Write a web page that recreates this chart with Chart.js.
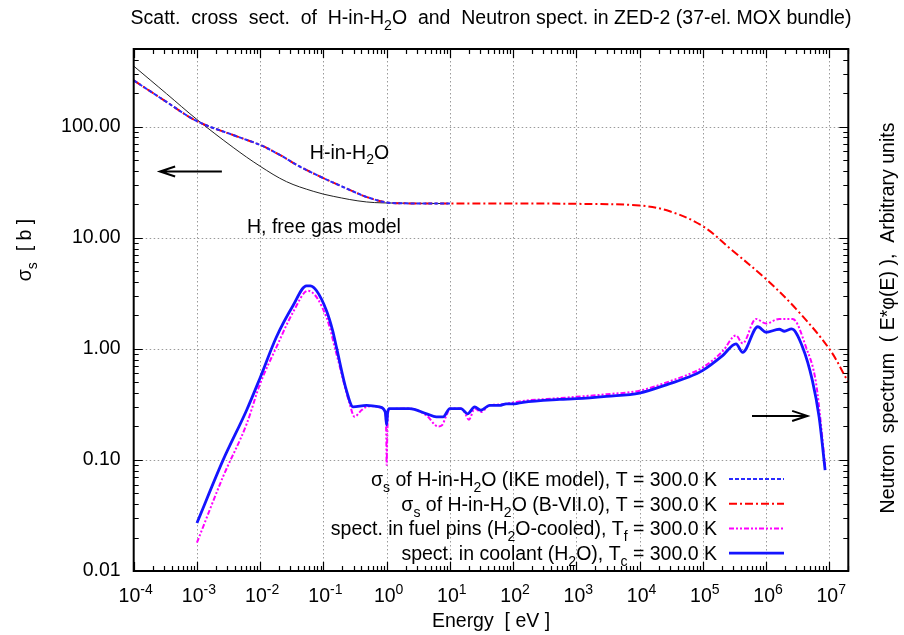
<!DOCTYPE html>
<html><head><meta charset="utf-8">
<script src="https://cdn.jsdelivr.net/npm/chart.js@4/dist/chart.umd.min.js"></script>
<style>html,body{margin:0;padding:0;background:#fff}#wrap{position:relative;width:904px;height:635px}</style>
</head><body><div id="wrap"><canvas id="c" width="904" height="635"></canvas></div>
<script>
// ---------- axis ticks ----------
const xTickValues = [1e-4,1e-3,1e-2,1e-1,1e0,1e1,1e2,1e3,1e4,1e5,1e6,1e7];
const xTickExponents = ['-4','-3','-2','-1','0','1','2','3','4','5','6','7'];
const yTickValues = [0.01,0.1,1,10,100];
const yTickLabels = ['0.01','0.10','1.00','10.00','100.00'];

// ---------- series ----------
// H, free gas model (black thin line)
const freeGasEnergy = [1e-4,3.3e-4,1e-3,3.74e-3,1e-2,2.6e-2,6.9e-2,0.143,0.48,1.5,10];
const freeGasSigma  = [351,198,116,65,44,32,26.2,23.6,21.0,20.5,20.3];

// sigma_s of H-in-H2O (IKE model)
const ikeEnergy = [1e-4,3.3e-4,1e-3,3.74e-3,1e-2,2.04e-2,4.2e-2,0.1,0.18,0.295,0.5,1,2,10];
const ikeSigma  = [261,167,112,84,68.4,55.7,43.8,34.4,29.6,26.1,23.1,20.8,20.4,20.3];

// sigma_s of H-in-H2O (B-VII.0)
const bviiEnergy = [1e-4,3.3e-4,1e-3,3.74e-3,1e-2,2.04e-2,4.2e-2,0.1,0.18,0.295,0.5,1,2,10,100,1e3,1e4,3e4,1e5,3e5,1e6,3e6,1e7,2e7];
const bviiSigma  = [261,167,112,84,68.4,55.7,43.8,34.4,29.6,26.1,23.1,20.8,20.4,20.3,20.3,20.2,19.5,17.3,12.7,7.6,4.24,2.28,1.0,0.5];

// spectrum in fuel pins (magenta)
const fuelEnergy = [1e-3,2.6e-3,6.1e-3,1e-2,1.8e-2,3.3e-2,5.7e-2,0.112,0.161,0.26,0.31,0.4,0.48,0.65,0.85,0.96,0.99,1.0,1.02,1.05,1.1,2.3,4.3,6.5,7.5,8.8,10,15,17,20,24.7,31,42.5,61,105,143,543,1e3,3e3,1e4,3e4,6e4,1e5,2.06e5,3.35e5,4.27e5,6.9e5,1e6,1.62e6,2.63e6,4.3e6,6.2e6,8.6e6];
const fuelFlux   = [0.018,0.071,0.21,0.486,1.03,2.13,3.33,1.92,0.9,0.32,0.245,0.28,0.30,0.305,0.29,0.26,0.15,0.09,0.15,0.26,0.285,0.29,0.25,0.2,0.205,0.25,0.29,0.29,0.27,0.23,0.29,0.27,0.31,0.315,0.33,0.34,0.36,0.37,0.39,0.42,0.51,0.59,0.68,0.95,1.32,1.12,1.86,1.69,1.86,1.86,1.03,0.486,0.09];

// spectrum in coolant (blue solid)
const coolEnergy = [1e-3,2.6e-3,6.1e-3,1e-2,1.8e-2,3.3e-2,5.4e-2,6.2e-2,7.8e-2,0.112,0.14,0.161,0.232,0.295,0.48,0.78,0.95,1.0,1.04,1.1,2.3,4.3,6.1,7.8,10,15,19,24.7,31,42.5,61,78,105,143,543,1e3,3e3,1e4,3e4,6e4,1e5,2.06e5,3.35e5,4.27e5,7.4e5,1e6,1.62e6,1.95e6,2.54e6,3.8e6,5.4e6,6.9e6,8.6e6];
const coolFlux   = [0.027,0.10,0.28,0.55,1.27,2.44,3.69,3.68,3.33,2.2,1.46,1.03,0.42,0.30,0.31,0.30,0.27,0.206,0.27,0.29,0.29,0.26,0.244,0.244,0.29,0.29,0.26,0.30,0.28,0.31,0.31,0.32,0.32,0.33,0.35,0.356,0.374,0.40,0.486,0.557,0.64,0.87,1.11,0.93,1.58,1.41,1.5,1.44,1.51,1.03,0.52,0.244,0.081];

// ---------- texts ----------
const titleText = 'Scatt.  cross  sect.  of  H-in-H_{2}O  and  Neutron spect. in ZED-2 (37-el. MOX bundle)';
const xTitle = 'Energy  [ eV ]';
const yTitle = 'σ_{s}  [ b ]';
const y2Title = 'Neutron  spectrum  ( E*φ(E) ),  Arbitrary units';
const legendLabels = [
  'σ_{s} of H-in-H_{2}O (IKE model), T = 300.0 K',
  'σ_{s} of H-in-H_{2}O (B-VII.0), T = 300.0 K',
  'spect. in fuel pins (H_{2}O-cooled), T_{f} = 300.0 K',
  'spect. in coolant (H_{2}O), T_{c} = 300.0 K'
];
const noteBound = 'H-in-H_{2}O';
const noteFree = 'H, free gas model';

const FONT = '"Liberation Sans", Arial, Helvetica, sans-serif';
const FS = 19.5;

function pts(xs, ys){ return xs.map((v,i)=>({x:v,y:ys[i]})); }

function parseRich(s){
  const out=[]; let i=0, buf='';
  while(i<s.length){
    if((s[i]==='_'||s[i]==='^') && s[i+1]==='{'){
      if(buf){out.push({t:buf,m:0});buf='';}
      const j=s.indexOf('}',i);
      out.push({t:s.slice(i+2,j), m: s[i]==='_'?-1:1});
      i=j+1;
    } else { buf+=s[i]; i++; }
  }
  if(buf) out.push({t:buf,m:0});
  return out;
}
function drawRich(ctx, s, x, y, align, size){
  const segs=parseRich(s); const sm=size*0.72;
  let w=0;
  segs.forEach(g=>{ctx.font=(g.m?sm:size)+'px '+FONT; g.w=ctx.measureText(g.t).width; w+=g.w;});
  let cx = align==='center'? x-w/2 : (align==='right'? x-w : x);
  ctx.textAlign='left'; ctx.textBaseline='alphabetic'; ctx.fillStyle='#000';
  const base = y + size*0.36;
  segs.forEach(g=>{
    ctx.font=(g.m?sm:size)+'px '+FONT;
    const dy = g.m<0 ? size*0.3 : (g.m>0 ? -size*0.42 : 0);
    ctx.fillText(g.t, cx, base+dy);
    cx+=g.w;
  });
  return w;
}
function arrow(ctx, x1,y1,x2,y2){
  const ang=Math.atan2(y2-y1,x2-x1), L=16, sp=0.32;
  ctx.beginPath(); ctx.moveTo(x1,y1); ctx.lineTo(x2,y2);
  ctx.moveTo(x2-L*Math.cos(ang-sp), y2-L*Math.sin(ang-sp)); ctx.lineTo(x2,y2);
  ctx.lineTo(x2-L*Math.cos(ang+sp), y2-L*Math.sin(ang+sp));
  ctx.stroke();
}

const decor = {
  id:'decor',
  beforeDatasetsDraw(chart){
    const {ctx, chartArea:a, scales:{x,y}} = chart;
    ctx.save();
    ctx.strokeStyle='#9a9a9a'; ctx.lineWidth=1; ctx.setLineDash([1.5,2.5]);
    xTickValues.forEach(v=>{
      const px=Math.round(x.getPixelForValue(v))+0.5;
      if(px<=a.left+2||px>=a.right-2) return;
      ctx.beginPath(); ctx.moveTo(px,a.top); ctx.lineTo(px,a.bottom); ctx.stroke();
    });
    yTickValues.forEach(v=>{
      const py=Math.round(y.getPixelForValue(v))+0.5;
      if(py<=a.top+2||py>=a.bottom-2) return;
      ctx.beginPath(); ctx.moveTo(a.left,py); ctx.lineTo(a.right,py); ctx.stroke();
    });
    ctx.restore();
  },
  afterDraw(chart){
    const {ctx, chartArea:a, scales:{x,y}} = chart;
    ctx.save();
    ctx.strokeStyle='#000'; ctx.lineWidth=1.2; ctx.setLineDash([]);
    const MJ=9, MN=5;
    for(let k=-4;k<=7;k++){
      for(let m=1;m<=9;m++){
        const v=m*Math.pow(10,k); if(v>x.max*1.0001) continue;
        const px=Math.round(x.getPixelForValue(v))+0.5; const L=m===1?MJ:MN;
        ctx.beginPath(); ctx.moveTo(px,a.bottom); ctx.lineTo(px,a.bottom-L);
        ctx.moveTo(px,a.top); ctx.lineTo(px,a.top+L); ctx.stroke();
      }
    }
    for(let k=-2;k<=2;k++){
      for(let m=1;m<=9;m++){
        const v=m*Math.pow(10,k); if(v>y.max*1.0001) continue;
        const py=Math.round(y.getPixelForValue(v))+0.5; const L=m===1?MJ:MN;
        ctx.beginPath(); ctx.moveTo(a.left,py); ctx.lineTo(a.left+L,py);
        ctx.moveTo(a.right,py); ctx.lineTo(a.right-L,py); ctx.stroke();
      }
    }
    ctx.lineWidth=2; ctx.strokeRect(a.left,a.top,a.right-a.left,a.bottom-a.top);
    xTickValues.forEach((v,i)=>{
      drawRich(ctx, '10^{'+xTickExponents[i]+'}', x.getPixelForValue(v)+2, a.bottom+24, 'center', FS);
    });
    drawRich(ctx, titleText, (a.left+a.right)/2, 17, 'center', FS);
    drawRich(ctx, xTitle, (a.left+a.right)/2, 620, 'center', FS);
    ctx.save(); ctx.translate(24, 250); ctx.rotate(-Math.PI/2);
    drawRich(ctx, yTitle, 0, 0, 'center', FS); ctx.restore();
    ctx.save(); ctx.translate(887, 318); ctx.rotate(-Math.PI/2);
    drawRich(ctx, y2Title, 0, 0, 'center', FS); ctx.restore();
    drawRich(ctx, noteBound, x.getPixelForValue(0.061), y.getPixelForValue(59.6), 'left', FS);
    drawRich(ctx, noteFree, x.getPixelForValue(6.2e-3), y.getPixelForValue(12.7), 'left', FS);
    ctx.strokeStyle='#000'; ctx.lineWidth=2;
    arrow(ctx, x.getPixelForValue(2.48e-3), y.getPixelForValue(39.5), x.getPixelForValue(2.6e-4), y.getPixelForValue(39.5));
    arrow(ctx, x.getPixelForValue(6.0e5), y.getPixelForValue(0.249), x.getPixelForValue(4.5e6), y.getPixelForValue(0.249));
    const legendSets = [2,3,1,0];
    legendLabels.forEach((lab,i)=>{
      const yy = 479 + i*24.7;
      drawRich(ctx, lab, 717, yy, 'right', FS);
      const ds = chart.data.datasets[legendSets[i]];
      ctx.strokeStyle=ds.borderColor; ctx.lineWidth=ds.borderWidth; ctx.setLineDash(ds.borderDash||[]);
      ctx.beginPath(); ctx.moveTo(729,yy); ctx.lineTo(784,yy); ctx.stroke();
    });
    ctx.restore();
  }
};

const ctx = document.getElementById('c').getContext('2d');
new Chart(ctx, {
  type:'line',
  data:{ datasets:[
    {label:'spect. in coolant', data:pts(coolEnergy,coolFlux), borderColor:'#1414ff', borderWidth:2.8, order:0, cubicInterpolationMode:'monotone'},
    {label:'spect. in fuel pins', data:pts(fuelEnergy,fuelFlux), borderColor:'#ff00ff', borderWidth:2, borderDash:[5,2,2,2,2,2], order:1, cubicInterpolationMode:'monotone'},
    {label:'IKE model', data:pts(ikeEnergy,ikeSigma), borderColor:'#2a2aff', borderWidth:2, borderDash:[4,2], order:2, tension:0.35},
    {label:'B-VII.0', data:pts(bviiEnergy,bviiSigma), borderColor:'#ff0000', borderWidth:2, borderDash:[8,3,2,3], order:3, tension:0.35},
    {label:'free gas', data:pts(freeGasEnergy,freeGasSigma), borderColor:'#222222', borderWidth:1, order:4, tension:0.35}
  ]},
  options:{
    responsive:false, animation:false, devicePixelRatio:1,
    layout:{padding:{left:0,right:55.7,top:49,bottom:64}},
    elements:{point:{radius:0}, line:{fill:false}},
    plugins:{legend:{display:false}, tooltip:{enabled:false}, title:{display:false}},
    scales:{
      x:{type:'logarithmic', min:1e-4, max:2e7,
        afterBuildTicks:s=>{s.ticks=xTickValues.map(v=>({value:v}));},
        ticks:{display:false}, grid:{display:false,drawTicks:false}, border:{display:false},
        afterFit:s=>{s.height=0;}},
      y:{type:'logarithmic', min:0.01, max:500,
        afterBuildTicks:s=>{s.ticks=yTickValues.map(v=>({value:v}));},
        ticks:{callback:(v)=>yTickLabels[yTickValues.findIndex(t=>Math.abs(t-v)<t*1e-6)], font:{family:FONT,size:FS}, color:'#000', padding:13, autoSkip:false, maxRotation:0},
        grid:{display:false,drawTicks:false}, border:{display:false},
        afterFit:s=>{s.width=133.7;}}
    }
  },
  plugins:[decor]
});
</script></body></html>
